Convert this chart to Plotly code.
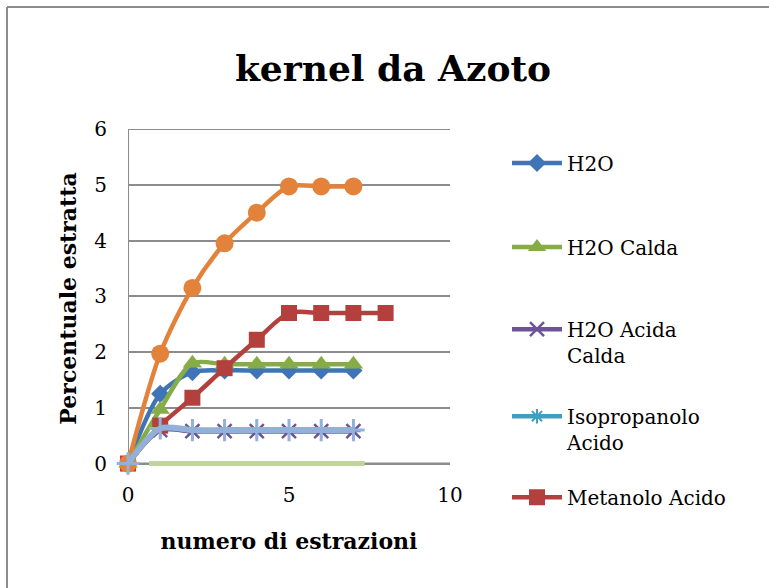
import plotly.graph_objects as go

# ---- data ----
x_std = [0, 1, 2, 3, 4, 5, 6, 7]
x_met = [0, 1, 2, 3, 4, 5, 6, 7, 8]
x_zero = [1, 2, 3, 4, 5, 6, 7]

h2o = [0, 1.25, 1.64, 1.67, 1.67, 1.67, 1.67, 1.67]
h2o_calda = [0, 0.97, 1.80, 1.78, 1.78, 1.78, 1.78, 1.78]
h2o_acida_calda = [0, 0.60, 0.58, 0.58, 0.58, 0.58, 0.58, 0.58]
isopropanolo_acido = [0, 0.60, 0.58, 0.58, 0.58, 0.58, 0.58, 0.58]
metanolo_acido = [0, 0.68, 1.18, 1.71, 2.22, 2.70, 2.70, 2.70, 2.70]
serie6 = [0, 1.97, 3.15, 3.95, 4.50, 4.97, 4.97, 4.97]
serie7 = [0, 0.63, 0.60, 0.60, 0.60, 0.60, 0.60, 0.60]
serie8 = [0, 0, 0, 0, 0, 0, 0]

title_text = "kernel da Azoto"
x_title = "numero di estrazioni"
y_title = "Percentuale estratta"
x_ticks = [0, 5, 10]
y_ticks = [0, 1, 2, 3, 4, 5, 6]

SERIF = "DejaVu Serif"
GRID = "#8c8c8c"

fig = go.Figure()


def add(x, y, name, color, symbol, size, lw=4.5, legend=None, mline=None):
    fig.add_trace(go.Scatter(
        x=x, y=y, name=name, mode="lines+markers",
        line=dict(color=color, width=lw, shape="spline", smoothing=0.8),
        marker=dict(symbol=symbol, size=size, color=color,
                    line=dict(color=color, width=mline if mline else 0)),
        cliponaxis=False,
        showlegend=legend is not None,
        legend=legend if legend else "legend",
    ))


add(x_std, h2o, "H2O", "#3F75B6", "diamond", 14, legend="legend")
add(x_std, h2o_calda, "H2O Calda", "#86AC48", "triangle-up", 17, legend="legend2")
add(x_std, isopropanolo_acido, "Isopropanolo<br>Acido", "#3E9FBE", "asterisk-open", 12, legend="legend4", mline=2)
add(x_std, h2o_acida_calda, "H2O Acida<br>Calda", "#6E5497", "x-thin-open", 14, legend="legend3", mline=2.5)
add(x_met, metanolo_acido, "Metanolo Acido", "#B3403D", "square", 16, legend="legend5")
add(x_std, serie6, "Serie6", "#E3823A", "circle", 18)
add(x_std, serie7, "Serie7", "#92B0D8", "cross-thin-open", 16, lw=6, mline=3)
add(x_zero, serie8, "Serie8", "#BFD59D", "line-ew-open", 16, lw=5, mline=5)

W, H = 769, 588
L, R, T = 128, 450, 129
Y0 = 463.3          # pixel row of y = 0
YMIN = -0.08
unit = (Y0 - T) / 6.0
B = Y0 - YMIN * unit  # bottom of plotting area


def py(p):
    return (B - p) / (B - T)


def px(p):
    return (p - L) / (R - L)


leg_common = dict(font=dict(family=SERIF, size=20, color="#000000"),
                  bgcolor="rgba(0,0,0,0)", xanchor="left", yanchor="middle",
                  valign="top", itemwidth=50, x=px(507))

layout_legends = {}
centers = {"legend": 163, "legend2": 247, "legend3": 342, "legend4": 429, "legend5": 497}
for k, c in centers.items():
    layout_legends[k] = dict(leg_common, y=py(c))

fig.update_layout(
    width=W, height=H,
    margin=dict(l=L, r=W - R, t=T, b=H - B, autoexpand=False),
    paper_bgcolor="white", plot_bgcolor="white",
    title=dict(text="<b>" + title_text + "</b>", x=393 / W, xanchor="center",
               y=1 - 68 / H, yanchor="middle",
               font=dict(family=SERIF, size=36, color="#000000")),
    xaxis=dict(range=[0, 10], tickvals=x_ticks, ticktext=[str(v) for v in x_ticks],
               showgrid=False, zeroline=False, showline=False,
               ticks="", ticklabelstandoff=13,
               tickfont=dict(family=SERIF, size=20, color="#000000"),
               title=dict(text="<b>" + x_title + "</b>", standoff=27,
                          font=dict(family=SERIF, size=22, color="#000000"))),
    yaxis=dict(range=[YMIN, 6], tickvals=y_ticks, ticktext=[str(v) for v in y_ticks],
               showgrid=True, gridcolor=GRID, gridwidth=2, zeroline=False,
               showline=False, ticks="", ticklabelstandoff=20,
               tickfont=dict(family=SERIF, size=20, color="#000000"),
               title=dict(text="<b>" + y_title + "</b>", standoff=11,
                          font=dict(family=SERIF, size=22, color="#000000"))),
    shapes=[
        dict(type="line", xref="paper", yref="paper", x0=px(7), x1=px(7), y0=py(7), y1=py(600),
             line=dict(color=GRID, width=2)),
        dict(type="line", xref="paper", yref="paper", x0=px(7), x1=px(780), y0=py(7), y1=py(7),
             line=dict(color=GRID, width=2)),
        dict(type="line", xref="x", yref="y", x0=0, x1=0, y0=0, y1=6,
             line=dict(color=GRID, width=2), layer="below"),
        dict(type="line", xref="x", yref="y", x0=0, x1=10, y0=6, y1=6,
             line=dict(color=GRID, width=2), layer="below"),
        dict(type="line", xref="x", yref="y", x0=0, x1=10, y0=0, y1=0,
             line=dict(color=GRID, width=2), layer="below"),
    ],
    **layout_legends,
)

fig.write_html("out.html", config={"displayModeBar": False},
               post_script="document.body.style.margin='0px';")
